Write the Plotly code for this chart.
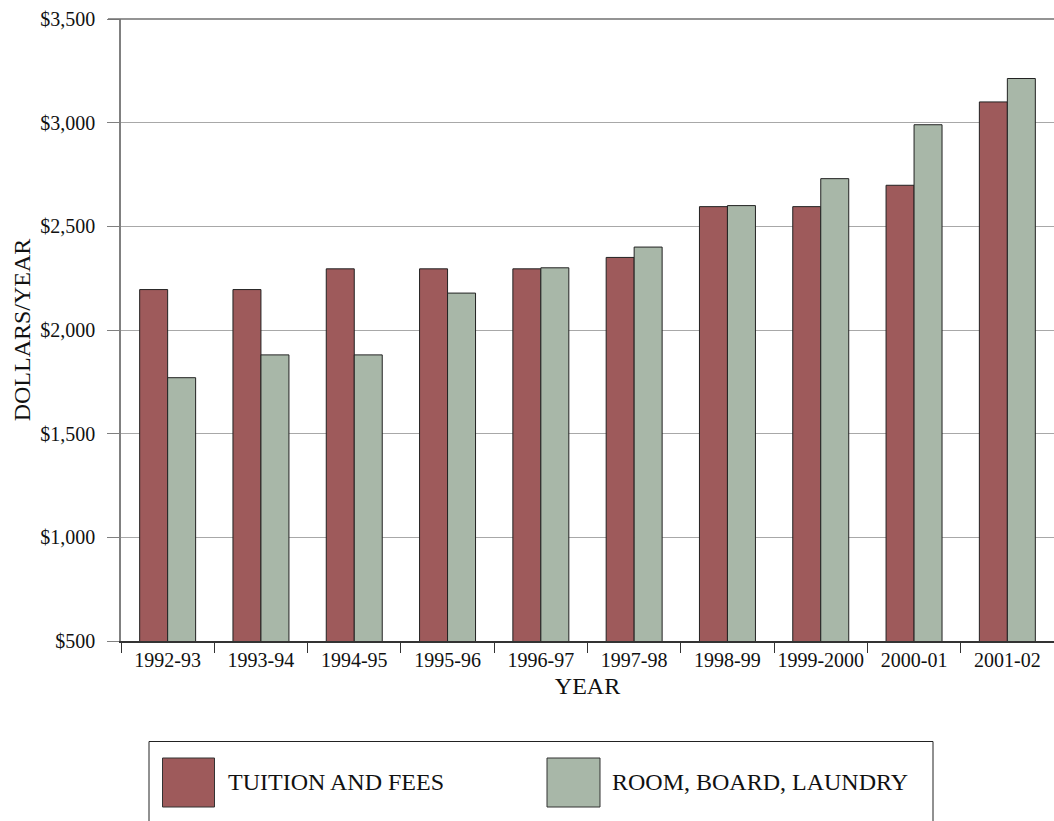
import plotly.graph_objects as go

years = ["1992-93", "1993-94", "1994-95", "1995-96", "1996-97",
         "1997-98", "1998-99", "1999-2000", "2000-01", "2001-02"]
tuition = [2195, 2195, 2295, 2295, 2295, 2350, 2595, 2595, 2698, 3100]
room = [1770, 1880, 1880, 2178, 2300, 2400, 2600, 2730, 2990, 3213]
y_ticks = [500, 1000, 1500, 2000, 2500, 3000, 3500]
y_tick_text = ["$500", "$1,000", "$1,500", "$2,000", "$2,500", "$3,000", "$3,500"]

C_TUI = "#9E5A5B"
C_ROOM = "#A8B7A8"
FONT = "Liberation Serif, Times New Roman, serif"

W, H = 1054, 821
L, R, T, B = 121, 0, 19, 180
PW, PH = W - L - R, H - T - B


def px(x):
    return (x - L) / PW


def py(y):
    return (H - B - y) / PH


fig = go.Figure()
fig.add_trace(go.Bar(x=years, y=tuition, name="TUITION AND FEES",
                     marker=dict(color=C_TUI, line=dict(color="#222222", width=1)),
                     showlegend=False))
fig.add_trace(go.Bar(x=years, y=room, name="ROOM, BOARD, LAUNDRY",
                     marker=dict(color=C_ROOM, line=dict(color="#222222", width=1)),
                     showlegend=False))

shapes = [
    # top border of plot area
    dict(type="line", xref="paper", yref="paper", x0=px(108), x1=1.0, y0=1, y1=1,
         line=dict(color="#707070", width=1.5)),
    # legend box
    dict(type="rect", xref="paper", yref="paper", x0=px(149), x1=px(933),
         y0=py(741.5), y1=py(840), line=dict(color="#222222", width=1),
         fillcolor="rgba(0,0,0,0)"),
    dict(type="rect", xref="paper", yref="paper", x0=px(162.5), x1=px(214.5),
         y0=py(758), y1=py(807), line=dict(color="#333333", width=1), fillcolor=C_TUI),
    dict(type="rect", xref="paper", yref="paper", x0=px(547), x1=px(600),
         y0=py(758), y1=py(807), line=dict(color="#333333", width=1), fillcolor=C_ROOM),
]

annotations = [
    dict(xref="paper", yref="paper", x=px(226), y=py(782), text="TUITION AND FEES",
         showarrow=False, xanchor="left", yanchor="middle",
         font=dict(family=FONT, size=24, color="#111111")),
    dict(xref="paper", yref="paper", x=px(610), y=py(782), text="ROOM, BOARD, LAUNDRY",
         showarrow=False, xanchor="left", yanchor="middle",
         font=dict(family=FONT, size=24, color="#111111")),
]

fig.update_layout(
    width=W, height=H,
    margin=dict(l=L, r=R, t=T, b=B, pad=0),
    paper_bgcolor="white", plot_bgcolor="white",
    barmode="group", bargap=0.4, bargroupgap=0,
    font=dict(family=FONT, size=20, color="#111111"),
    shapes=shapes, annotations=annotations,
    xaxis=dict(
        type="category", tickson="boundaries", ticks="outside", ticklen=10,
        tickcolor="#333333", tickwidth=1, tickangle=0,
        showline=True, linecolor="#333333", linewidth=1.5,
        showgrid=False, tickfont=dict(family=FONT, size=20),
        title=dict(text="YEAR", font=dict(family=FONT, size=24), standoff=7),
        automargin=False,
    ),
    yaxis=dict(
        range=[500, 3500], tickvals=y_ticks, ticktext=y_tick_text,
        ticks="outside", ticklen=12, tickcolor="#808080", tickwidth=1,
        showline=True, linecolor="#808080", linewidth=1.5,
        showgrid=True, gridcolor="#A8A8A8", gridwidth=1, zeroline=False,
        tickfont=dict(family=FONT, size=20), ticklabelstandoff=8,
        title=dict(text="DOLLARS/YEAR", font=dict(family=FONT, size=24), standoff=3),
        automargin=False,
    ),
)

fig.write_html(
    "out.html",
    config={"displayModeBar": False},
    post_script="document.body.style.margin='0';document.body.style.overflow='hidden';",
)
